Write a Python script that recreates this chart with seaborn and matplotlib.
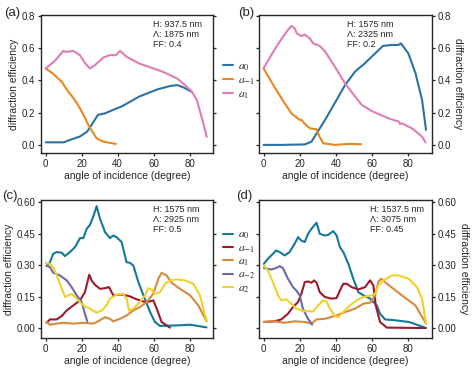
import numpy as np
import pandas as pd
import matplotlib
matplotlib.use('Agg')
import matplotlib.pyplot as plt
import seaborn as sns

# ---- panel (a): H 937.5 nm, period 1875 nm, FF 0.4
a_a0_x = [0, 10, 13.5, 19, 23, 25.5, 29, 33, 39.5, 42, 52, 62, 69, 73, 76.5, 81]
a_a0_y = [0.016, 0.016, 0.031, 0.052, 0.082, 0.124, 0.186, 0.196, 0.227, 0.237, 0.30, 0.344, 0.365, 0.371, 0.357, 0.33]
a_am1_x = [0, 4, 9, 12, 15.5, 18, 21, 23.7, 26.5, 28.3, 32, 39]
a_am1_y = [0.474, 0.443, 0.39, 0.34, 0.289, 0.247, 0.186, 0.124, 0.072, 0.041, 0.02, 0.006]
a_a1_x = [0, 5, 9.8, 11.3, 15.4, 19, 22, 24.6, 27.4, 32, 35.7, 39, 41.3, 45, 52, 65, 73, 77.4, 81, 84, 86.6, 89.5]
a_a1_y = [0.474, 0.52, 0.583, 0.577, 0.583, 0.557, 0.505, 0.474, 0.495, 0.542, 0.557, 0.557, 0.583, 0.546, 0.505, 0.454, 0.412, 0.371, 0.334, 0.278, 0.175, 0.05]

# ---- panel (b): H 1575 nm, period 2325 nm, FF 0.2
b_a0_x = [0, 10, 22.8, 26.5, 29.3, 34, 39.4, 45, 50.6, 56, 61.7, 66, 71, 74.6, 75.9, 80, 84, 87.6, 89.8]
b_a0_y = [0.0, 0.0, 0.003, 0.02, 0.07, 0.155, 0.26, 0.37, 0.455, 0.506, 0.568, 0.614, 0.62, 0.62, 0.63, 0.568, 0.444, 0.28, 0.093]
b_am1_x = [0, 6, 11.7, 15.4, 20, 21, 22.8, 25.6, 29.3, 31, 33, 39.4, 46.8, 54]
b_am1_y = [0.475, 0.36, 0.258, 0.196, 0.155, 0.155, 0.13, 0.103, 0.097, 0.05, 0.01, 0.0, 0.006, 0.004]
b_a1_x = [0, 6, 9.8, 13.5, 15.4, 17.2, 18.5, 20.9, 22.8, 25.6, 27.4, 31, 34, 39.4, 45, 50.6, 54.3, 59.8, 69, 74.6, 75.5, 76.5, 82, 87.6, 89.5]
b_a1_y = [0.475, 0.59, 0.655, 0.713, 0.738, 0.723, 0.69, 0.675, 0.684, 0.66, 0.63, 0.614, 0.58, 0.486, 0.382, 0.30, 0.248, 0.21, 0.165, 0.145, 0.13, 0.134, 0.103, 0.052, 0.015]

# ---- panel (c): H 1575 nm, period 2925 nm, FF 0.5
c_a0_x = [0.5, 2.4, 4.2, 6.1, 8.9, 10.7, 13.5, 16.3, 19.1, 20.9, 22.8, 24.6, 26.5, 28.3, 30.2, 33, 35.7, 37.6, 39.4, 42.2, 44.9, 46.8, 48.7, 51.5, 54.3, 58, 60.7, 63.5, 74.6, 80.2, 89.4]
c_a0_y = [0.295, 0.314, 0.354, 0.362, 0.359, 0.343, 0.362, 0.386, 0.429, 0.429, 0.473, 0.492, 0.533, 0.581, 0.521, 0.457, 0.429, 0.441, 0.433, 0.41, 0.314, 0.311, 0.298, 0.219, 0.156, 0.076, 0.029, 0.01, 0.013, 0.016, 0.003]
c_am1_x = [0.5, 2.4, 6.1, 8.9, 11.7, 15.4, 19.1, 21.8, 24.2, 25.5, 27.4, 30.2, 33, 35.2, 36.6, 37.6, 42.2, 46.8, 50.5, 55.2, 58, 59.8, 61.7, 64.4, 69]
c_am1_y = [0.025, 0.041, 0.041, 0.057, 0.084, 0.108, 0.132, 0.171, 0.254, 0.227, 0.206, 0.187, 0.19, 0.195, 0.171, 0.156, 0.16, 0.151, 0.137, 0.124, 0.127, 0.132, 0.092, 0.029, 0.002]
c_a1_x = [0.5, 2.4, 6.1, 9.8, 15.4, 20.9, 26.5, 30.2, 33, 35.7, 37.6, 41.3, 45, 48.7, 52.4, 56.1, 59.8, 62.6, 64.4, 67.2, 70, 74.6, 80.2, 84.8, 89.4]
c_a1_y = [0.029, 0.016, 0.021, 0.025, 0.021, 0.025, 0.021, 0.037, 0.052, 0.044, 0.032, 0.044, 0.06, 0.084, 0.10, 0.124, 0.163, 0.235, 0.263, 0.251, 0.216, 0.187, 0.156, 0.108, 0.032]
c_am2_x = [0.5, 2.4, 4.2, 7.9, 11.7, 14.4, 17.2, 20, 21.8, 23.1]
c_am2_y = [0.298, 0.29, 0.263, 0.251, 0.227, 0.195, 0.156, 0.124, 0.068, 0.032]
c_a2_x = [0, 2.4, 4.2, 6.1, 8.9, 10.7, 12.6, 14.4, 17.2, 20.9, 24.6, 28.3, 31.1, 33.8, 35.7, 39.4, 43.1, 45, 46.3, 48.7, 52.4, 55.2, 57, 58.9, 60.7, 63.5, 66.3, 69, 72.8, 77.4, 82, 85.7, 89.4]
c_a2_y = [0.31, 0.306, 0.29, 0.251, 0.19, 0.148, 0.156, 0.163, 0.14, 0.108, 0.092, 0.073, 0.084, 0.108, 0.14, 0.159, 0.163, 0.14, 0.084, 0.092, 0.124, 0.156, 0.19, 0.184, 0.163, 0.171, 0.211, 0.227, 0.232, 0.227, 0.211, 0.156, 0.032]

# ---- panel (d): H 1537.5 nm, period 3075 nm, FF 0.45
d_a0_x = [0.2, 2.4, 5.2, 7, 8.9, 11.7, 14.4, 17.2, 19.1, 20.9, 22.8, 24.6, 26.5, 28.3, 29.3, 31.1, 33.9, 35.7, 38.5, 40.4, 42.2, 44.1, 46.9, 49.6, 52.4, 55.2, 58.9, 62.6, 64.4, 67.2, 72.8, 80.2, 85.7, 89.8]
d_a0_y = [0.306, 0.33, 0.354, 0.37, 0.362, 0.346, 0.362, 0.402, 0.433, 0.417, 0.41, 0.449, 0.473, 0.492, 0.502, 0.449, 0.441, 0.444, 0.462, 0.441, 0.386, 0.362, 0.306, 0.235, 0.171, 0.156, 0.14, 0.108, 0.068, 0.041, 0.037, 0.029, 0.013, 0.0]
d_am1_x = [0.2, 6.1, 9.8, 13.5, 16.3, 19.1, 20.9, 22.8, 24.6, 26.5, 28, 29.3, 31.1, 33.9, 37.6, 40.4, 42.2, 44.1, 45.9, 48.7, 52.4, 56.1, 58.9, 60.7, 62, 64.4, 68.1, 89.4]
d_am1_y = [0.029, 0.032, 0.041, 0.068, 0.10, 0.124, 0.163, 0.219, 0.222, 0.216, 0.227, 0.216, 0.171, 0.148, 0.14, 0.143, 0.179, 0.211, 0.211, 0.195, 0.184, 0.195, 0.227, 0.203, 0.108, 0.029, 0.002, 0.0]
d_a1_x = [0.2, 6.1, 11.7, 17.2, 22.8, 26.5, 29.3, 33.9, 40.4, 45, 50.5, 55.2, 58.9, 61.7, 63.5, 65, 69, 76.4, 83.9, 89.8]
d_a1_y = [0.029, 0.032, 0.025, 0.032, 0.029, 0.021, 0.041, 0.044, 0.06, 0.076, 0.092, 0.116, 0.121, 0.156, 0.222, 0.235, 0.206, 0.156, 0.108, 0.021]
d_am2_x = [0.2, 4.3, 7, 8.9, 10.7, 13.5, 16.3, 18.1, 20, 21.8, 24.6, 26.9]
d_am2_y = [0.286, 0.279, 0.286, 0.295, 0.286, 0.235, 0.195, 0.179, 0.156, 0.092, 0.044, 0.016]
d_a2_x = [0.2, 2.4, 5.2, 8, 9.8, 12.6, 15.4, 18.1, 21.8, 27.4, 30.2, 33, 34.8, 36.7, 39.4, 41.3, 44.1, 47.8, 51.5, 55.2, 59.8, 61.7, 63.5, 66.3, 71, 74.6, 80.2, 84.8, 87.6, 89.8]
d_a2_y = [0.298, 0.275, 0.219, 0.156, 0.132, 0.137, 0.116, 0.092, 0.081, 0.079, 0.108, 0.132, 0.127, 0.092, 0.057, 0.052, 0.076, 0.108, 0.132, 0.148, 0.156, 0.163, 0.203, 0.227, 0.251, 0.251, 0.235, 0.195, 0.14, 0.021]

orders_top = ['$a_0$', '$a_{-1}$', '$a_1$']
orders_bot = ['$a_0$', '$a_{-1}$', '$a_1$', '$a_{-2}$', '$a_2$']
pal_top = {'$a_0$': '#2c72a6', '$a_{-1}$': '#e8891c', '$a_1$': '#e07db6'}
pal_bot = {'$a_0$': '#14789a', '$a_{-1}$': '#9a1b2e', '$a_1$': '#d88a3c',
           '$a_{-2}$': '#6c69a8', '$a_2$': '#efd12c'}

param_text = ['H: 937.5 nm\n\u039b: 1875 nm\nFF: 0.4',
              'H: 1575 nm\n\u039b: 2325 nm\nFF: 0.2',
              'H: 1575 nm\n\u039b: 2925 nm\nFF: 0.5',
              'H: 1537.5 nm\n\u039b: 3075 nm\nFF: 0.45']


def to_long(series, names):
    rows = []
    for (xs, ys), name in zip(series, names):
        for x, y in zip(xs, ys):
            rows.append([x, y, name])
    return pd.DataFrame(rows, columns=['angle', 'eff', 'order'])


panels = [
    to_long([(a_a0_x, a_a0_y), (a_am1_x, a_am1_y), (a_a1_x, a_a1_y)], orders_top),
    to_long([(b_a0_x, b_a0_y), (b_am1_x, b_am1_y), (b_a1_x, b_a1_y)], orders_top),
    to_long([(c_a0_x, c_a0_y), (c_am1_x, c_am1_y), (c_a1_x, c_a1_y),
             (c_am2_x, c_am2_y), (c_a2_x, c_a2_y)], orders_bot),
    to_long([(d_a0_x, d_a0_y), (d_am1_x, d_am1_y), (d_a1_x, d_a1_y),
             (d_am2_x, d_am2_y), (d_a2_x, d_a2_y)], orders_bot),
]

sns.set_style('ticks')
plt.rcParams['font.family'] = ['Liberation Sans', 'DejaVu Sans']
plt.rcParams['mathtext.fontset'] = 'stix'

fig = plt.figure(figsize=(4.74, 3.74), dpi=100)
boxes = [[0.0865, 0.591, 0.363, 0.369], [0.546, 0.591, 0.365, 0.369],
         [0.0865, 0.096, 0.363, 0.369], [0.546, 0.096, 0.365, 0.369]]
tags = ['(a)', '(b)', '(c)', '(d)']
tag_pos = [(0.008, 0.965), (0.503, 0.965), (0.005, 0.477), (0.498, 0.477)]
text_x = [0.65, 0.51, 0.65, 0.64]

for i, df in enumerate(panels):
    ax = fig.add_axes(boxes[i])
    top = i < 2
    pal = pal_top if top else pal_bot
    order = orders_top if top else orders_bot
    sns.lineplot(data=df, x='angle', y='eff', hue='order', hue_order=order,
                 palette=pal, linewidth=1.5, sort=False, estimator=None,
                 ax=ax, legend=True)
    handles, labels = ax.get_legend_handles_labels()
    ax.get_legend().remove()
    ax.set_xlim(-2.6, 93)
    ax.set_xticks([0, 20, 40, 60, 80])
    if top:
        ax.set_ylim(-0.05, 0.806)
        ax.set_yticks([0.0, 0.2, 0.4, 0.6, 0.8])
        ax.yaxis.set_major_formatter(matplotlib.ticker.FormatStrFormatter('%.1f'))
    else:
        ax.set_ylim(-0.048, 0.61)
        ax.set_yticks([0.0, 0.15, 0.30, 0.45, 0.60])
        ax.yaxis.set_major_formatter(matplotlib.ticker.FormatStrFormatter('%.2f'))
    ax.set_xlabel('angle of incidence (degree)', fontsize=7.5, labelpad=2)
    left = i % 2 == 0
    if left:
        ax.set_ylabel('diffraction efficiency', fontsize=7.5, labelpad=2)
        ax.tick_params(axis='y', which='both', left=True, right=True,
                       labelleft=True, labelright=False)
    else:
        ax.yaxis.set_label_position('right')
        ax.set_ylabel('diffraction efficiency', fontsize=7.5, rotation=270,
                      labelpad=9)
        ax.tick_params(axis='y', which='both', left=True, right=True,
                       labelleft=False, labelright=True)
    ax.tick_params(axis='both', labelsize=7, length=2.5, width=0.9, pad=1.5,
                   direction='out')
    ax.tick_params(axis='x', top=False)
    for s in ax.spines.values():
        s.set_linewidth(1.0)
        s.set_visible(True)
    ax.text(text_x[i], 0.965, param_text[i], transform=ax.transAxes,
            fontsize=6.5, va='top', ha='left', linespacing=1.15)
    fig.text(tag_pos[i][0], tag_pos[i][1], tags[i], fontsize=9.5, va='center')
    if i == 0:
        fig.legend(handles, labels, loc='center left', bbox_to_anchor=(0.455, 0.785),
                   frameon=False, fontsize=8.5, handlelength=0.9,
                   handletextpad=0.35, labelspacing=0.12, borderpad=0.1)
    if i == 2:
        fig.legend(handles, labels, loc='center left', bbox_to_anchor=(0.455, 0.30),
                   frameon=False, fontsize=8.5, handlelength=0.9,
                   handletextpad=0.35, labelspacing=0.08, borderpad=0.1)

fig.savefig('out.png', dpi=100)
